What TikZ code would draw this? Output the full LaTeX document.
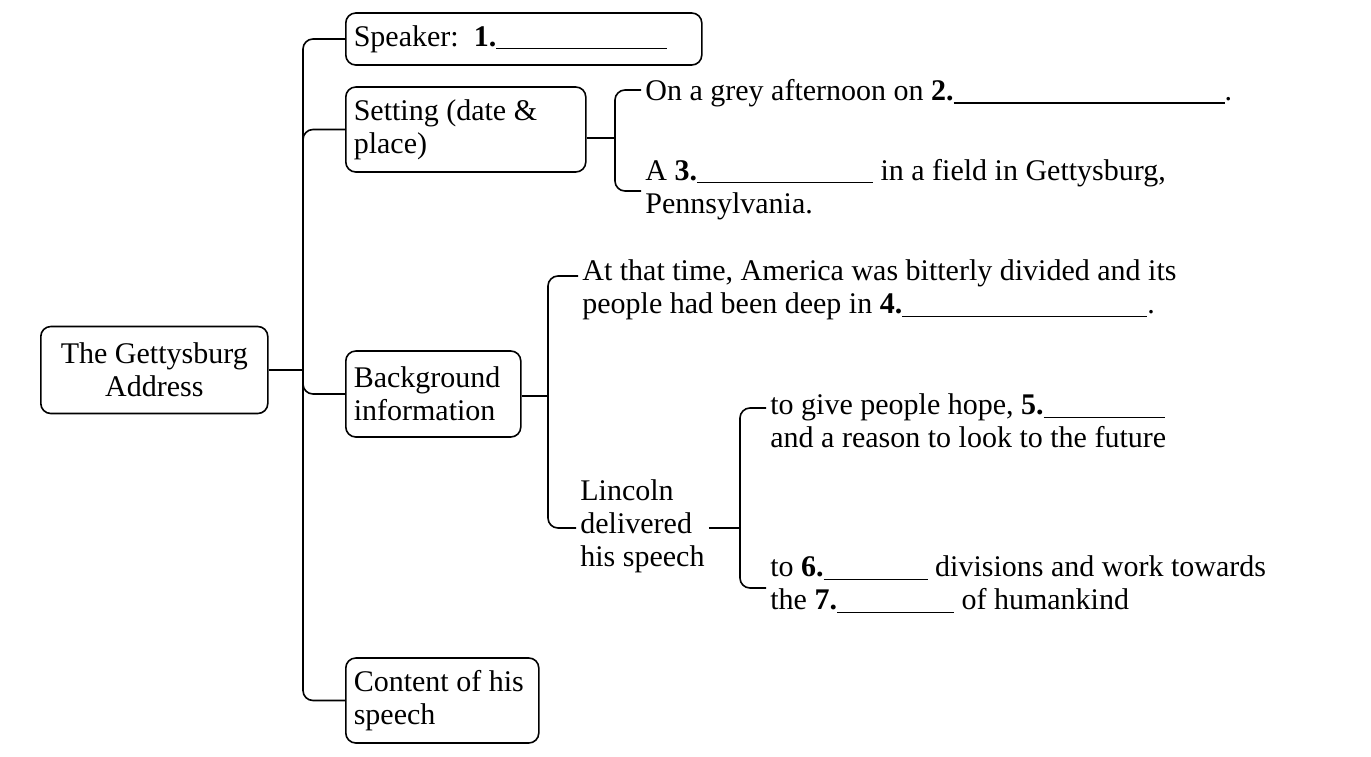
\documentclass[tikz,border=0pt]{standalone}
\usepackage{fontspec}
\setmainfont{Liberation Serif}
\newcommand{\blank}[1]{\rule[-1.5pt]{#1}{0.6pt}}

\begin{document}
\begin{tikzpicture}[x=0.5pt, y=-0.5pt,
    every node/.style={font=\fontsize{15}{16.5}\selectfont},
    topic/.style={draw, line width=0.8pt, rounded corners=5pt, anchor=west,
        inner xsep=4pt, inner ysep=0pt, align=flush left},
    note/.style={anchor=west, inner xsep=2pt, inner ysep=0pt, align=flush left,
        execute at begin node=\strut, execute at end node=\strut},
    branch/.style={line width=0.8pt, rounded corners=5pt}]
   \useasboundingbox (0,0) rectangle (1371,756);

   % boxes
   \node[topic, align=flush center, text width=105.5pt, minimum height=43.5pt] (root) at (40,370) {The Gettysburg\\Address};
   \node[topic, text width=170pt, minimum height=26pt] (speaker) at (345,39) {Speaker:\ \ \textbf{1.}\blank{85.5pt}};
   \node[topic, text width=112pt, minimum height=42.5pt] (setting) at (345,129.5) {Setting (date \&\\place)};
   \node[topic, text width=79.5pt, minimum height=43pt] (backgr) at (345,394) {Background\\information};
   \node[topic, text width=88.5pt, minimum height=42.5pt] (content) at (345,700.5) {Content of his\\speech};

   % trunk
   \coordinate (rj) at (303,370);
   \draw[branch] (root.east) -- (rj);
   \foreach \n in {speaker,setting,backgr,content}
      \draw[branch] (rj) |- (\n.west);

   % setting
   \node[note] (date) at (641,94) {On a grey afternoon on \textbf{2.}\blank{135.5pt}.};
   \node[note] (place) at (641,191) {A \textbf{3.}\blank{88pt} in a field in Gettysburg,\\Pennsylvania.};
   \coordinate (sj) at (615,138);
   \draw[branch] (setting.east |- sj) -- (sj);
   \draw[branch] ([yshift=2pt]date.west) -| (sj) |- (place.west);

   % background
   \node[note] (divided) at (578,292) {At that time, America was bitterly divided and its\\people had been deep in \textbf{4.}\blank{122.5pt}.};
   \node[note] (lincoln) at (576,528) {Lincoln\\delivered\\his speech};
   \coordinate (bj) at (548,396);
   \draw[branch] (backgr.east |- bj) -- (bj);
   \draw[branch] ([yshift=8pt]divided.west) -| (bj) |- (lincoln.west);

   % reasons
   \node[note] (hope) at (766,426) {to give people hope, \textbf{5.}\blank{60.5pt}\\and a reason to look to the future};
   \node[note] (heal) at (766,588) {to \textbf{6.}\blank{52pt} divisions and work towards\\the \textbf{7.}\blank{58.5pt} of humankind};
   \coordinate (lj) at (740,528);
   \draw[branch] (lincoln.east) -- (lj);
   \draw[branch] ([yshift=9pt]hope.west) -| (lj) |- (heal.west);
\end{tikzpicture}
\end{document}
